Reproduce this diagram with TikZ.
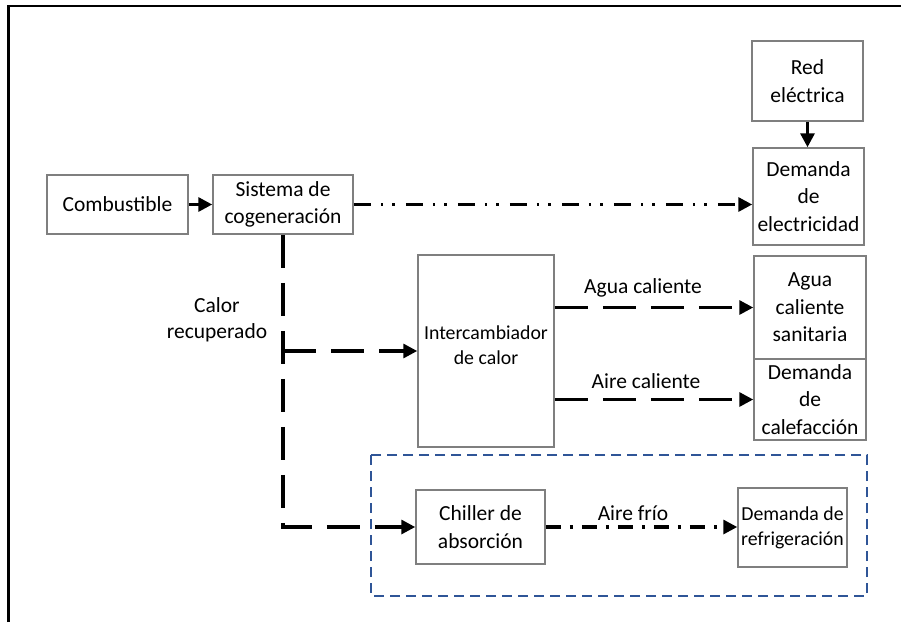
\documentclass[tikz,border=0pt]{standalone}
\usepackage{fontspec}
\setmainfont{Carlito}
\usetikzlibrary{arrows.meta}
\definecolor{boxgray}{HTML}{7F7F7F}
\definecolor{frameblue}{HTML}{2F5597}
\tikzset{
  box/.style={draw=boxgray, line width=1.5pt, fill=white, align=center, inner sep=0pt,
    font=\fontsize{21.5}{27.5}\selectfont},
  smallbox/.style={box, font=\fontsize{19.8}{25}\selectfont},
  lbl/.style={align=center, inner sep=0pt, font=\fontsize{21.5}{26}\selectfont},
  conn/.style={line width=3.2pt, -{Triangle[length=14pt,width=14pt]}},
  heat/.style={conn, dash pattern=on 33pt off 15pt},
  elec/.style={conn, dash pattern=on 17pt off 10pt on 2.5pt off 9pt on 2.5pt off 11pt},
  cold/.style={conn, dash pattern=on 15pt off 9pt on 3pt off 9pt},
  solidarrow/.style={conn}
}
\begin{document}
\begin{tikzpicture}[x=1pt,y=-1pt]
\useasboundingbox (0,0) rectangle (901,622);
\fill[white] (0,0) rectangle (901,622);
% frame (top and left edges visible)
\draw[line width=2.2pt] (8.5,622) -- (8.5,6) -- (901,6);
% blue dashed group
\draw[frameblue, line width=2pt, dash pattern=on 10pt off 6pt] (371,455) rectangle (867,596);
% boxes
\node[box, minimum width=141pt, minimum height=59pt] (comb) at (117.5,204.5) {Combustible};
\node[box, minimum width=140pt, minimum height=59pt] (sist) at (283,204.5) {Sistema de\\cogeneración};
\node[box, minimum width=111pt, minimum height=80pt] (red) at (807.5,81) {Red\\eléctrica};
\node[box, minimum width=111pt, minimum height=97pt] (delec) at (808.5,196.5) {Demanda\\de\\electricidad};
\node[box, minimum width=136pt, minimum height=192pt] (inter) at (486,351) {};
\node[align=center, inner sep=0pt, font=\fontsize{19.8}{25}\selectfont] (intertext) at (486,345) {Intercambiador\\de calor};
\node[box, minimum width=112pt, minimum height=103pt] (acs) at (810,307.5) {Agua\\caliente\\sanitaria};
\node[box, minimum width=112pt, minimum height=81pt] (dcal) at (810,399.5) {Demanda\\de\\calefacción};
\node[box, minimum width=129pt, minimum height=74pt] (chil) at (480.5,527) {Chiller de\\absorción};
\node[smallbox, minimum width=109pt, minimum height=79pt] (dref) at (792.5,527.5) {Demanda de\\refrigeración};
% labels
\node[lbl] (calor) at (217,320) {Calor\\recuperado};
\node[lbl] (lagua) at (643,288) {Agua caliente};
\node[lbl] (laire) at (646,381) {Aire caliente};
\node[lbl] (lfrio) at (633,513) {Aire frío};
% coordinates
\coordinate (corner) at (283,527);
\coordinate (branch) at (283,351);
% connectors
\draw[solidarrow] (comb.east) -- (sist.west);
\draw[elec] (sist.east) -- (delec.west |- sist.east);
\draw[solidarrow] (red.south) -- (red.south |- delec.north);
\draw[heat] (sist.south) -- (corner) -- (chil.west);
\draw[heat] (branch) -- (inter.west);
\draw[heat] (inter.east |- acs.west) -- (acs.west);
\draw[heat] (inter.east |- dcal.west) -- (dcal.west);
\draw[cold] (chil.east) -- (dref.west |- chil.east);
\end{tikzpicture}
\end{document}
